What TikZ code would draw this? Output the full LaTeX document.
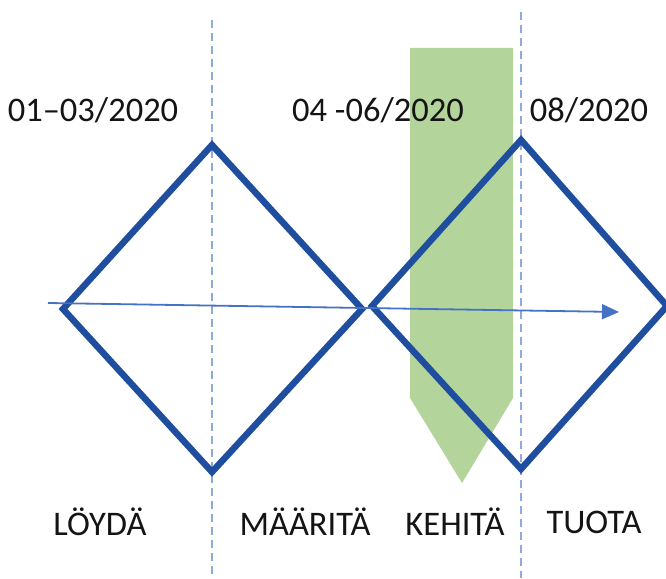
\documentclass[tikz,border=0pt]{standalone}
\usepackage{fontspec}
\setmainfont{Carlito}
\usetikzlibrary{arrows.meta}
\definecolor{diablue}{HTML}{1F4E9E}
\definecolor{arrblue}{HTML}{4472C4}
\definecolor{dashblue}{HTML}{8FAADC}
\definecolor{kgreen}{HTML}{B3D59C}
\definecolor{txt}{HTML}{141414}
\tikzset{
  diam/.style={draw=diablue, line width=6.5pt, line join=miter},
  guide/.style={draw=dashblue, line width=1.3pt, dash pattern=on 8pt off 5pt},
  lbl/.style={text=txt, font=\fontsize{34.5}{40}\selectfont, inner sep=0pt, anchor=center},
  flow/.style={draw=arrblue, line width=1.8pt, -{Triangle[length=17pt,width=15pt]}}
}
\begin{document}
\begin{tikzpicture}[x=1pt,y=-1pt]
\useasboundingbox (0,0) rectangle (666,578);
% dashed guides
\coordinate (g1t) at (212,20);
\coordinate (g1b) at (212,578);
\coordinate (g2t) at (521,12);
\coordinate (g2b) at (521,578);
\draw[guide] (g1t) -- (g1b);
\draw[guide] (g2t) -- (g2b);
% green arrow shape
\fill[kgreen] (410,48) -- (513,48) -- (513,398) -- (462,483) -- (410,398) -- cycle;
% diamonds
\coordinate (L1) at (63,309);
\coordinate (T1) at (212,145);
\coordinate (R1) at (362,309);
\coordinate (B1) at (212,472);
\coordinate (L2) at (372,306);
\coordinate (T2) at (521,140);
\coordinate (R2) at (667,306);
\coordinate (B2) at (521,469);
\draw[diam] (L1) -- (T1) -- (R1) -- (B1) -- cycle;
\draw[diam] (L2) -- (T2) -- (R2) -- (B2) -- cycle;
% flow arrow
\coordinate (as) at (48,303);
\coordinate (ae) at (619,312);
\draw[flow] (as) -- (ae);
% labels
\node[lbl] (d1) at (93,110) {01–03/2020};
\node[lbl] (d2) at (378,110) {04 -06/2020};
\node[lbl] (d3) at (589,110) {08/2020};
\node[lbl] (p1) at (100,522) {LÖYDÄ};
\node[lbl] (p2) at (305,522) {MÄÄRITÄ};
\node[lbl] (p3) at (455,522) {KEHITÄ};
\node[lbl] (p4) at (594,522) {TUOTA};
\end{tikzpicture}
\end{document}
